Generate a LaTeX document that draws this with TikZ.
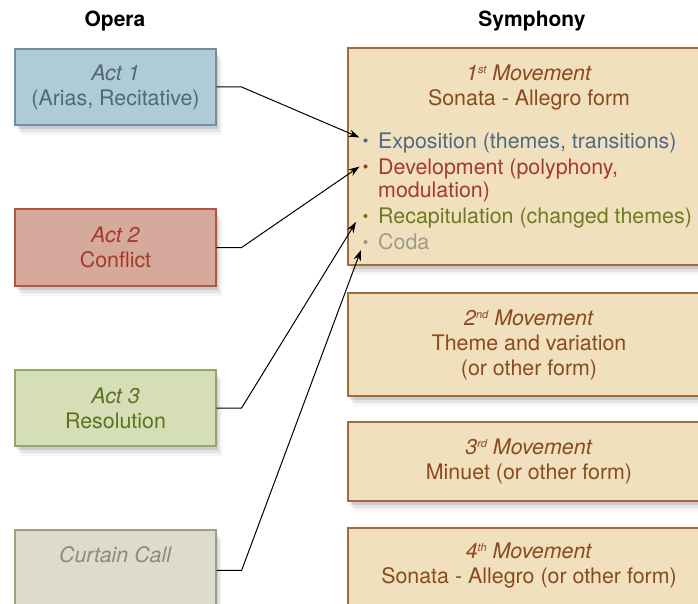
\documentclass[tikz,border=0pt]{standalone}
\usepackage{fontspec}
\setmainfont{TeX Gyre Heros}
\usetikzlibrary{shadows,calc,arrows.meta}
\definecolor{aoneF}{HTML}{AFCBD6}\definecolor{aoneD}{HTML}{6F8FA3}\definecolor{aoneT}{HTML}{50687A}
\definecolor{atwoF}{HTML}{D5A99B}\definecolor{atwoD}{HTML}{B5543F}\definecolor{atwoT}{HTML}{A63A28}
\definecolor{athreeF}{HTML}{D6DEB7}\definecolor{athreeD}{HTML}{93A766}\definecolor{athreeT}{HTML}{5E7020}
\definecolor{ccF}{HTML}{DDDBCB}\definecolor{ccD}{HTML}{A09F88}\definecolor{ccT}{HTML}{8C8C7A}
\definecolor{movF}{HTML}{F1E0BE}\definecolor{movD}{HTML}{A36A3E}\definecolor{movT}{HTML}{8A4A1E}
\definecolor{expT}{HTML}{4F6B80}\definecolor{devT}{HTML}{A53A28}\definecolor{recT}{HTML}{6B7B1F}\definecolor{codT}{HTML}{9C9C8C}
\newcommand{\ordsup}[1]{\raisebox{7pt}{\fontsize{11}{11}\selectfont #1}}
\tikzset{
  softshadow/.style={
    drop shadow={shadow xshift=2pt,shadow yshift=-4pt,fill=black,opacity=0.10},
    drop shadow={shadow xshift=4pt,shadow yshift=-7pt,fill=black,opacity=0.07},
    drop shadow={shadow xshift=6pt,shadow yshift=-10pt,fill=black,opacity=0.04}},
  actbox/.style={draw,line width=1.2pt,softshadow,minimum width=201pt,align=center,inner sep=0pt},
  movbox/.style={draw=movD,fill=movF,line width=1.2pt,softshadow,minimum width=362pt,align=center,inner sep=0pt,text=movT},
  heading/.style={font=\fontsize{21}{25}\selectfont\bfseries},
  txt/.style={font=\fontsize{21.4}{25}\selectfont},
  blt/.style={circle,inner sep=0pt,minimum size=4.2pt},
  item/.style={txt,anchor=base west,inner sep=0pt},
  conn/.style={line width=1pt,-{Stealth[length=11pt,width=7.5pt]}}
}
\begin{document}
\begin{tikzpicture}[x=1pt,y=-1pt]
\useasboundingbox (0,0) rectangle (698,604);
\clip (0,0) rectangle (698,604);
\fill[white] (0,0) rectangle (698,604);
\node[heading] (hop) at (115,21) {Opera};
\node[heading] (hsy) at (532,21) {Symphony};
% acts
\node[actbox,fill=aoneF,draw=aoneD,text=aoneT,minimum height=76pt,txt] (a1) at (115.5,87) {\textit{Act 1}\\(Arias, Recitative)};
\node[actbox,fill=atwoF,draw=atwoD,text=atwoT,minimum height=77pt,txt] (a2) at (115.5,247.5) {\textit{Act 2}\\Conflict};
\node[actbox,fill=athreeF,draw=athreeD,text=athreeT,minimum height=76pt,txt] (a3) at (115.5,408) {\textit{Act 3}\\Resolution};
\node[actbox,fill=ccF,draw=ccD,minimum height=100pt] (cc) at (115.5,580) {};
\node[txt,text=ccT] (cct) at (115.5,555) {\textit{Curtain Call}};
% movements
\node[movbox,minimum height=217pt] (m1) at (529,156.5) {};
\node[txt,text=movT,align=center] (m1t) at (529,88) {\textit{1\ordsup{st} Movement}\\Sonata - Allegro form};
\node[movbox,minimum height=103pt,txt] (m2) at (529,344.5) {\textit{2\ordsup{nd} Movement}\\Theme and variation\\(or other form)};
\node[movbox,minimum height=79pt,txt] (m3) at (529,461.5) {\textit{3\ordsup{rd} Movement}\\Minuet (or other form)};
\node[movbox,minimum height=100pt] (m4) at (529,578) {};
\node[txt,text=movT,align=center] (m4t) at (529,566) {\textit{4\ordsup{th} Movement}\\Sonata - Allegro (or other form)};
% bullet items
\node[blt,fill=expT] (b1) at (365.5,140.5) {};
\node[blt,fill=devT] (b2) at (365.5,166.5) {};
\node[blt,fill=recT] (b3) at (365.5,216) {};
\node[blt,fill=codT] (b4) at (365.5,242) {};
\node[item,text=expT] (i1) at (378,148.5) {Exposition (themes, transitions)};
\node[item,text=devT] (i2) at (378,174.5) {Development (polyphony,};
\node[item,text=devT] (i2b) at (378,197.5) {modulation)};
\node[item,text=recT] (i3) at (378,223.5) {Recapitulation (changed themes)};
\node[item,text=codT] (i4) at (378,249.5) {Coda};
% connectors
\coordinate (e1) at ($(b1)+(-6,-3)$);
\coordinate (e2) at ($(b2)+(-6,0)$);
\coordinate (e3) at ($(b3)+(-9.5,6)$);
\coordinate (e4) at ($(b4)+(-4.5,8)$);
\coordinate (s4) at ($(cc.north east)+(0,41)$);
\draw[conn] (a1.east) -- ++(25,0) -- (e1);
\draw[conn] (a2.east) -- ++(25,0) -- (e2);
\draw[conn] (a3.east) -- ++(25,0) -- (e3);
\draw[conn] (s4) -- ++(25,0) -- (e4);
\end{tikzpicture}
\end{document}
